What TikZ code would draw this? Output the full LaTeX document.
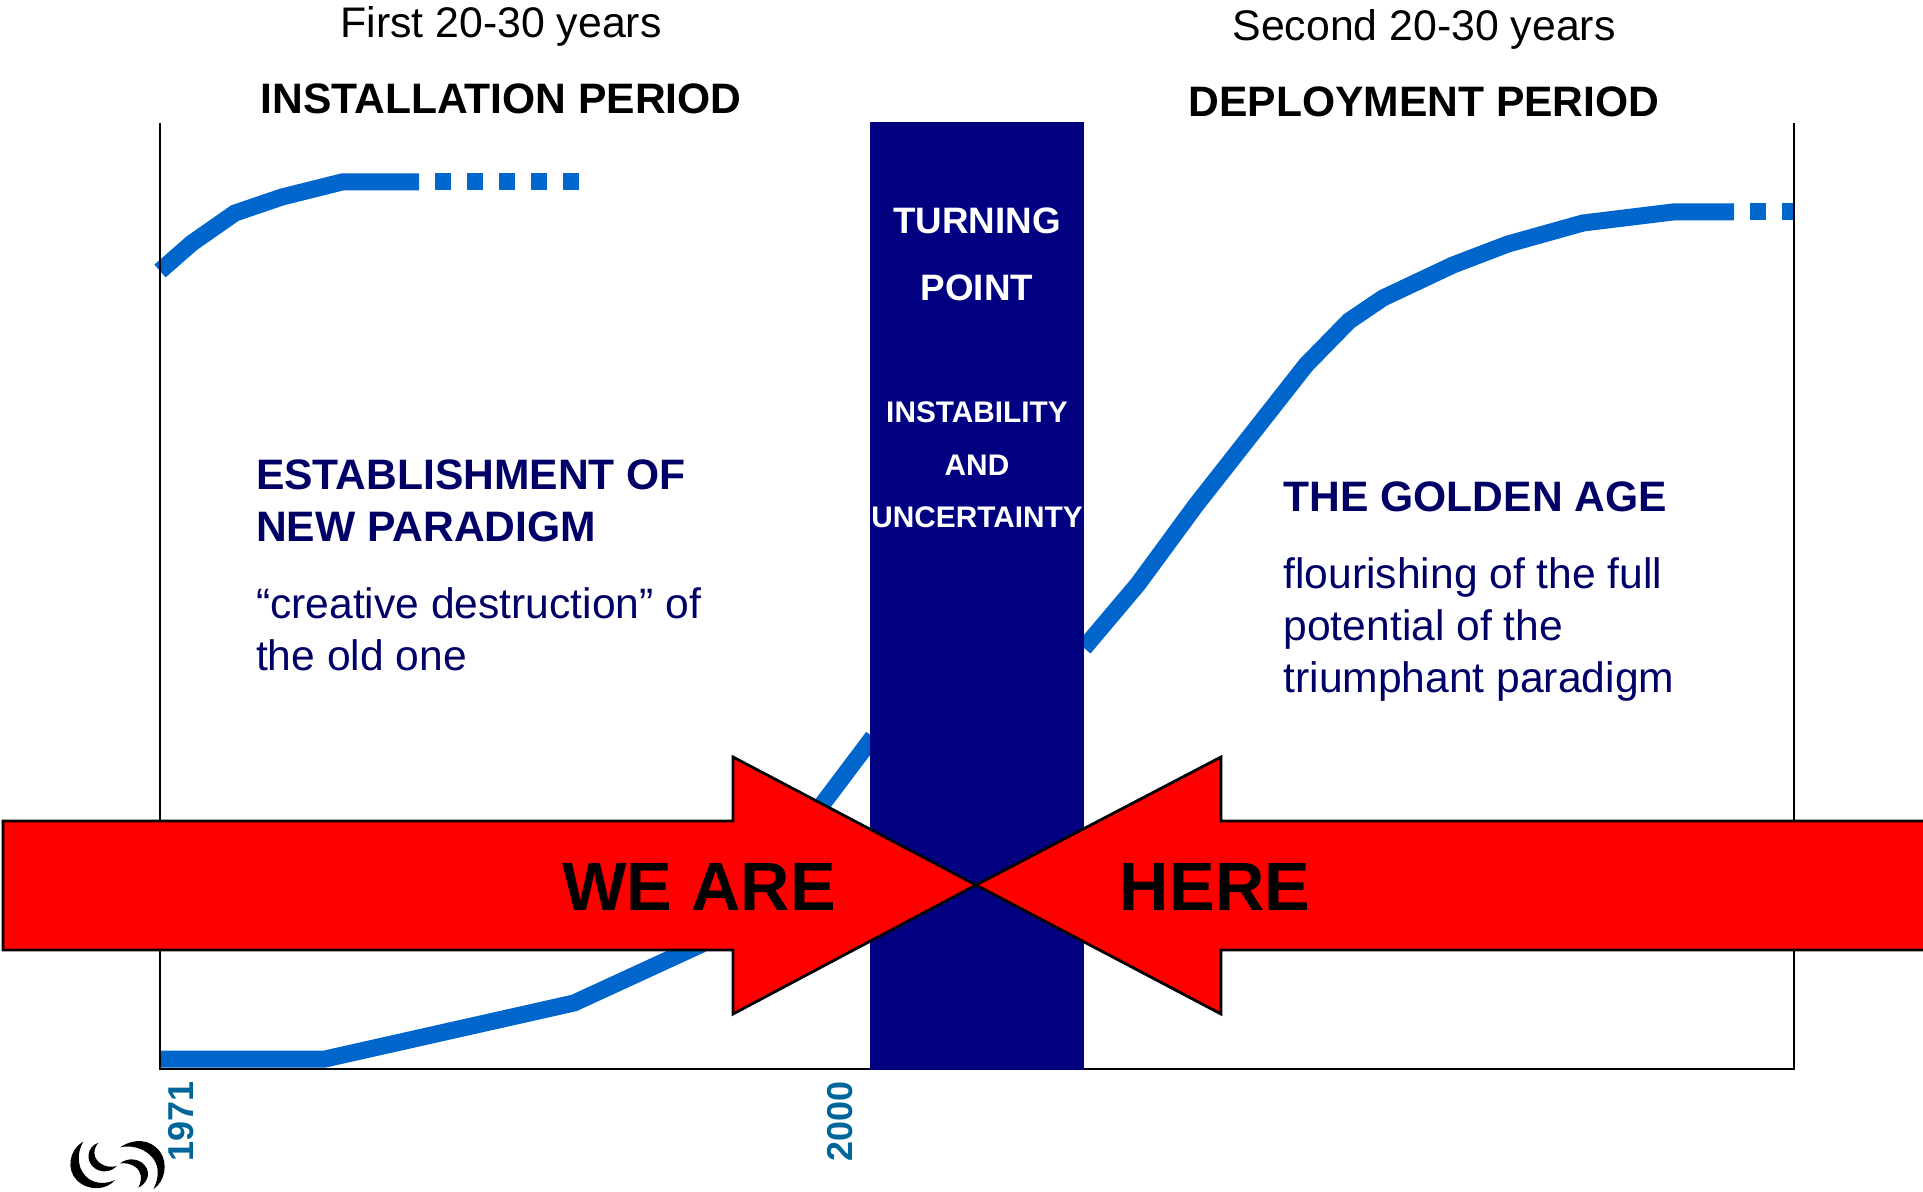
\documentclass[tikz,border=0pt]{standalone}
\usepackage{xcolor}
\usepackage{fontspec}
\setmainfont{Liberation Sans}
\usetikzlibrary{positioning}
\definecolor{periodnavy}{RGB}{0, 0, 128}
\definecolor{textnavy}{RGB}{0, 0, 102}
\definecolor{curveblue}{RGB}{0, 102, 204}
\definecolor{yearteal}{RGB}{0, 102, 153}
\definecolor{arrowred}{RGB}{255, 0, 0}

\begin{document}
\begin{tikzpicture}[
  x=0.5pt, y=-0.5pt,
  curve/.style={draw=curveblue, line width=8.5pt},
  curvedash/.style={curve, dash pattern=on 8pt off 8pt},
  axis/.style={draw=black, line width=1.4pt},
  bigarrow/.style={draw=black, line width=1.4pt, fill=arrowred, line join=miter},
  period/.style={font=\fontsize{21.4}{26}\selectfont},
  periodname/.style={font=\fontsize{21.3}{26}\selectfont\bfseries},
  heading/.style={font=\fontsize{21.3}{26}\selectfont\bfseries, text=textnavy, align=left, anchor=west},
  body/.style={font=\fontsize{21.3}{26}\selectfont, text=textnavy, align=left, anchor=west},
  turning/.style={font=\fontsize{18.4}{26}\selectfont\bfseries, text=white},
  instab/.style={font=\fontsize{14.9}{26.2}\selectfont\bfseries, text=white, align=center},
  year/.style={font=\fontsize{18}{20}\selectfont\bfseries, text=yearteal, rotate=90, anchor=east},
  herelabel/.style={font=\fontsize{34.2}{40}\selectfont\bfseries}
]
  \useasboundingbox (0,0) rectangle (1923,1192);

  % blue curve, three visible pieces
  \draw[curve] (160,271) -- (192,243) -- (235,213) -- (282,197) -- (342,182) -- (419,182);
  \draw[curvedash] (435,182) -- (579,182);
  \draw[curve] (160,1059) -- (325,1059) -- (574,1003) -- (700,945) -- (818,810) -- (873,737);
  \draw[curve] (1084,648) -- (1138,584) -- (1196,505) -- (1306,365) -- (1349,321) -- (1383,298)
    -- (1453,265) -- (1508,244) -- (1583,223) -- (1673,212) -- (1734,212);
  \draw[curvedash] (1750,212) -- (1793,212);

  \draw[axis] (160,123) -- (160,1069) -- (1794,1069) -- (1794,123);
  \fill[periodnavy] (870,122) rectangle (1084,1070);

  \draw[bigarrow] (3,821) -- (733,821) -- (733,757) -- (976,885) -- (733,1014) -- (733,950) -- (3,950) -- cycle;
  \draw[bigarrow] (1923,821) -- (1221,821) -- (1221,757) -- (976,885) -- (1221,1014) -- (1221,950) -- (1923,950);

  \node[period] (first) at (501,26) {First 20-30 years};
  \node[period] (second) at (1424,29) {Second 20-30 years};
  \node[periodname] (install) at (501,99) {INSTALLATION PERIOD};
  \node[periodname] (deploy) at (1424,102) {DEPLOYMENT PERIOD};

  \node[turning] (turn) at (977,221) {TURNING};
  \node[turning] (point) at (977,288) {POINT};
  \node[instab] (instability) at (977,465) {INSTABILITY\\AND\\UNCERTAINTY};

  \node[heading] (paradigm) at (249,501) {ESTABLISHMENT OF\\NEW PARADIGM};
  \node[body] (destruction) at (249,629) {“creative destruction” of\\the old one};
  \node[heading] (golden) at (1276.5,497) {THE GOLDEN AGE};
  \node[body] (flourish) at (1276.5,629) {flourishing of the full\\potential of the\\triumphant paradigm};

  \node[herelabel] (weare) at (699,887) {WE ARE};
  \node[herelabel] (here) at (1215,887) {HERE};

  \node[year] (start) at (181,1074) {1971};
  \node[year] (mid) at (840,1074) {2000};

  % logo
  \begin{scope}[shift={(0,1040)}, x=0.1667pt, y=-0.1667pt]
    \fill[black] (250,305) .. controls (205,330) and (200,390) .. (230,420) .. controls (265,455) and (320,450) .. (345,420)
      .. controls (300,440) and (255,425) .. (240,380) .. controls (232,350) and (238,325) .. (250,305) -- cycle;
    \fill[black] (295,308) .. controls (260,320) and (255,365) .. (285,385) .. controls (305,400) and (335,395) .. (350,378)
      .. controls (325,385) and (295,375) .. (285,350) .. controls (280,335) and (285,320) .. (295,308) -- cycle;
    \fill[black] (360,322) .. controls (400,295) and (450,295) .. (480,335) .. controls (505,370) and (495,425) .. (460,447)
      .. controls (480,410) and (478,370) .. (450,345) .. controls (425,322) and (390,315) .. (360,322) -- cycle;
    \fill[black] (360,370) .. controls (385,350) and (425,355) .. (440,385) .. controls (450,405) and (440,430) .. (415,443)
      .. controls (428,415) and (425,395) .. (405,380) .. controls (392,371) and (375,368) .. (360,370) -- cycle;
  \end{scope}
\end{tikzpicture}
\end{document}
